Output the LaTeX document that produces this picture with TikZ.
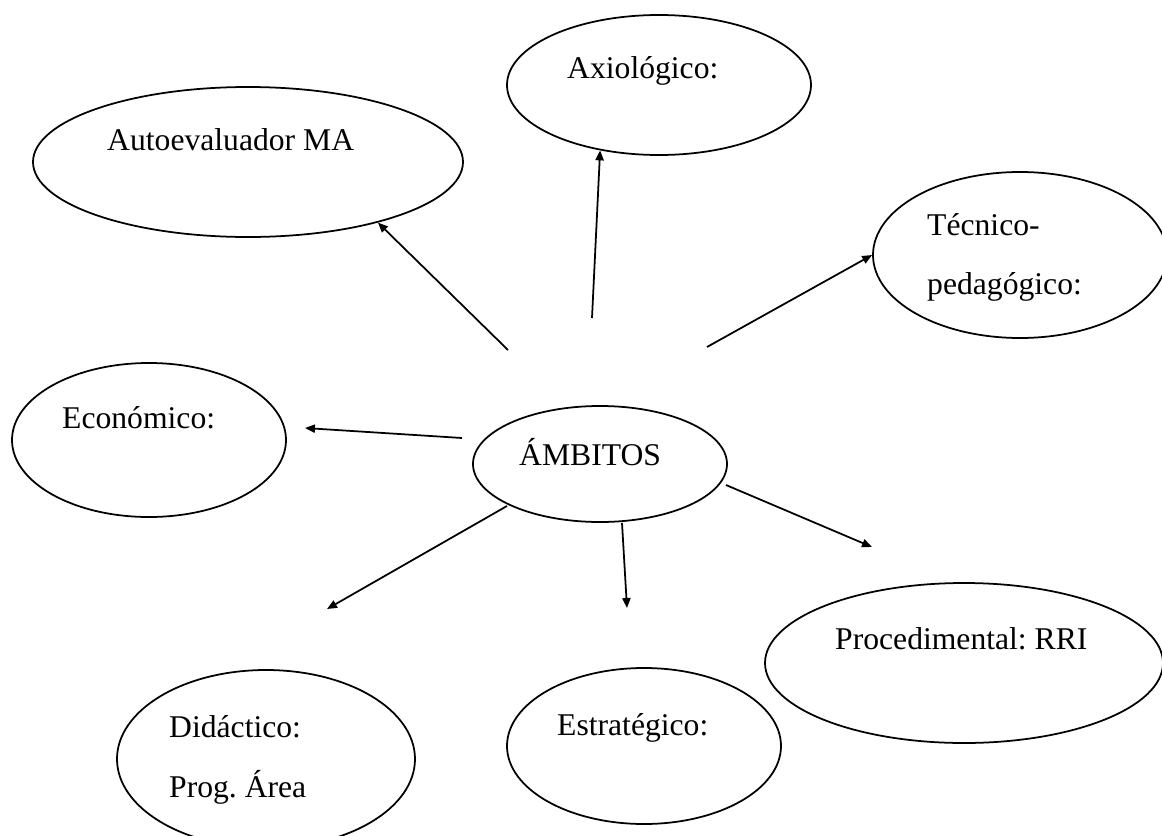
\documentclass[tikz,border=0pt]{standalone}
\usepackage{fontspec}
\setmainfont{Liberation Serif}
\usetikzlibrary{shapes.geometric, arrows.meta}
\frenchspacing
\begin{document}
\begin{tikzpicture}[x=0.03cm, y=-0.03cm,
  oval/.style 2 args={ellipse, draw, line width=1.5pt, inner sep=0pt,
    minimum width=#1*0.06cm, minimum height=#2*0.06cm},
  lbl/.style={anchor=base west, inner sep=0pt, font=\fontsize{27}{32}\selectfont},
  link/.style={line width=1.5pt, -{Triangle[length=8.5pt,width=7pt]}}]
\useasboundingbox (0,0) rectangle (1162,836);
\clip (0,0) rectangle (1162,836);

% ovals
\node[oval={215}{75}] (auto) at (248,162) {};
\node[oval={152}{70}] (axio) at (659,85) {};
\node[oval={147}{83}] (tec)  at (1020,255) {};
\node[oval={137}{77}] (eco)  at (149,440) {};
\node[oval={127}{58}] (amb)  at (600,464) {};
\node[oval={199}{80}] (proc) at (964,663) {};
\node[oval={149}{89}] (did)  at (266,759) {};
\node[oval={137}{78}] (est)  at (644,746) {};

% labels
\node[lbl] (autoT) at (107,150) {Autoevaluador MA};
\node[lbl] (axioT) at (567,78)  {Axiológico:};
\node[lbl] (tecA)  at (927,235) {Técnico-};
\node[lbl] (tecB)  at (927,294) {pedagógico:};
\node[lbl] (ecoT)  at (62,428)  {Económico:};
\node[lbl] (ambT)  at (519,465) {ÁMBITOS};
\node[lbl] (procT) at (835,649) {Procedimental: RRI};
\node[lbl] (didA)  at (169,737) {Didáctico:};
\node[lbl] (didB)  at (169,797) {Prog. Área};
\node[lbl] (estT)  at (557,735) {Estratégico:};

% loose ends of the arrows
\coordinate (s1) at (508,350);
\coordinate (s2) at (592,318);
\coordinate (s3) at (707,347);
\coordinate (s4) at (462,438);
\coordinate (e4) at (305,428);
\coordinate (s5) at (507,506);
\coordinate (e5) at (327,609);
\coordinate (s6) at (622,523);
\coordinate (e6) at (627,608);
\coordinate (s7) at (726,485);
\coordinate (e7) at (872,547);

% arrows
\draw[link] (s1) -- (auto.-25);
\draw[link] (s2) -- (axio.-132);
\draw[link] (s3) -- (tec.west);
\draw[link] (s4) -- (e4);
\draw[link] (s5) -- (e5);
\draw[link] (s6) -- (e6);
\draw[link] (s7) -- (e7);
\end{tikzpicture}
\end{document}
